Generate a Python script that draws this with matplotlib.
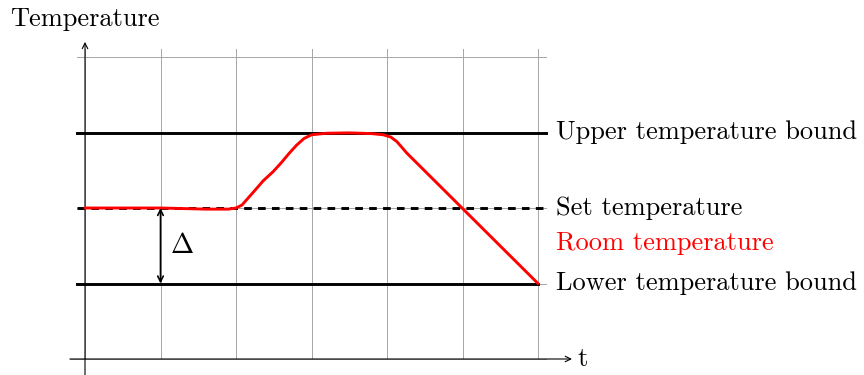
import matplotlib.pyplot as plt
import numpy as np

plt.rcParams['font.family'] = ['cmr10', 'DejaVu Serif']
plt.rcParams['mathtext.fontset'] = 'cm'
plt.rcParams['lines.scale_dashes'] = False

# room temperature trace (time, temperature in grid units)
room_t = [0, 1.0, 1.6, 1.9, 2.0, 2.08, 2.15, 2.23, 2.36, 2.49, 2.6, 2.7, 2.8,
          2.9, 3.0, 3.2, 3.5, 3.8, 3.95, 4.05, 4.13, 4.2, 4.26, 4.33, 6.0]
room_T = [2.0, 2.0, 1.985, 1.985, 2.0, 2.04, 2.12, 2.21, 2.36, 2.48, 2.6, 2.72,
          2.83, 2.92, 2.97, 2.99, 2.995, 2.985, 2.97, 2.94, 2.88, 2.8, 2.73,
          2.66, 1.0]

upper_bound = 3
set_temp = 2
lower_bound = 1

labels = ['Upper temperature bound', 'Set temperature',
          'Room temperature', 'Lower temperature bound']
label_y = [upper_bound, set_temp, 1.54, lower_bound]
label_colors = ['black', 'black', 'red', 'black']

fig = plt.figure(figsize=(8.64, 3.75), dpi=100)
ax = fig.add_axes([0, 0, 1, 1])
unit = 75.5
ax.set_xlim(-85 / unit, (864 - 85) / unit)
ax.set_ylim(-16 / unit, 359 / unit)
ax.axis('off')

# help grid
grey = '#a6a6a6'
for gx in range(0, 7):
    ax.plot([gx, gx], [0, 4.1], color=grey, lw=0.7, zorder=1)
for gy in range(1, 5):
    ax.plot([-0.1, 6.1], [gy, gy], color=grey, lw=0.7, zorder=1)
ax.plot([-0.2, 6.1], [0, 0], color=grey, lw=0.7, zorder=1)

# axes with arrows
ax.annotate('', xy=(6.45, 0), xytext=(-0.2, 0),
            arrowprops=dict(arrowstyle='->', lw=0.8, color='black',
                            shrinkA=0, shrinkB=0), zorder=3)
ax.annotate('', xy=(0, 4.2), xytext=(0, -0.25),
            arrowprops=dict(arrowstyle='->', lw=0.8, color='black',
                            shrinkA=0, shrinkB=0), zorder=3)
ax.text(0, 4.5, 'Temperature', ha='center', va='center', fontsize=19)
ax.text(6.52, 0, 't', ha='left', va='center', fontsize=19)

# bounds and set point
ax.plot([-0.1, 6.1], [upper_bound, upper_bound], color='black', lw=2.1, zorder=4)
ax.plot([-0.1, 6.0], [lower_bound, lower_bound], color='black', lw=2.1, zorder=4)
ax.plot([-0.1, 6.1], [set_temp, set_temp], color='black', lw=2.1,
        dashes=(5.5, 4.5), zorder=4)

ax.plot(room_t, room_T, color='red', lw=2.1, zorder=5, solid_capstyle='round')

# delta between set point and lower bound
ax.annotate('', xy=(1, set_temp), xytext=(1, lower_bound),
            arrowprops=dict(arrowstyle='<->', lw=1.2, color='black',
                            shrinkA=0, shrinkB=0, mutation_scale=10), zorder=6)
ax.text(1.12, 1.5, r'$\Delta$', ha='left', va='center', fontsize=20)

for lab, ly, c in zip(labels, label_y, label_colors):
    ax.text(6.24, ly, lab, ha='left', va='center', fontsize=19, color=c)

fig.savefig('out.png', dpi=100)
